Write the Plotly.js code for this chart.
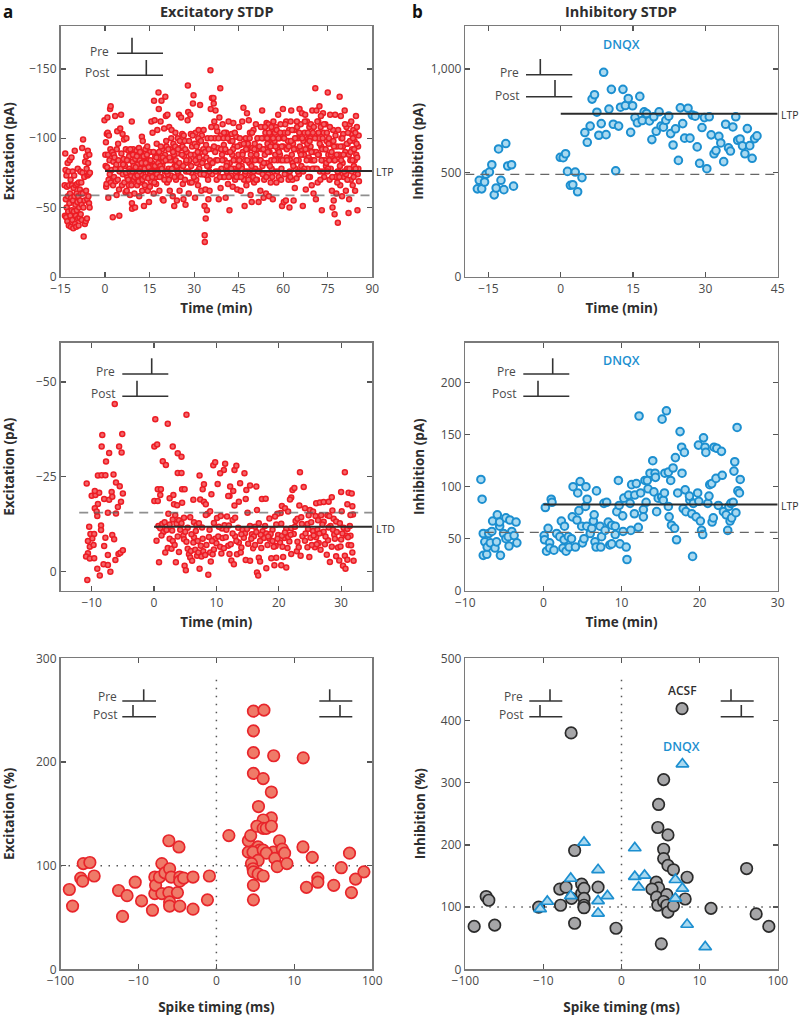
<!DOCTYPE html>
<html><head><meta charset="utf-8">
<script src="https://cdn.plot.ly/plotly-3.0.1.min.js"></script>
<style>html,body{margin:0;padding:0;background:#fff}</style></head>
<body><div id="chart" style="width:800px;height:1016px"></div>
<script>
// ---------- DATA ----------
const excLtpBefore=[[-13.6,66],[-13.5,44],[-13.4,89],[-13.3,77],[-13.2,56],[-13.1,43],[-13,73],[-12.9,50],[-12.8,65],[-12.7,40],[-12.6,82],[-12.5,58],[-12.4,47],[-12.3,76],[-12.2,37],[-12.1,66],[-12,53],[-11.9,84],[-11.8,60],[-11.7,44],[-11.6,70],[-11.5,36],[-11.4,57],[-11.3,86],[-11.2,48],[-11.1,66],[-11,41],[-10.9,76],[-10.8,55],[-10.7,35],[-10.6,64],[-10.5,47],[-10.4,73],[-10.3,58],[-10.2,91],[-10.1,38],[-10,52],[-9.9,66],[-9.8,44],[-9.7,36],[-9.6,60],[-9.5,48],[-9.4,67],[-9.3,54],[-9.2,78],[-9.1,42],[-9,58],[-8.9,37],[-8.8,68],[-8.7,50],[-8.6,43],[-8.5,63],[-8.4,55],[-8.3,76],[-8.2,45],[-8.1,60],[-8,68],[-7.9,52],[-7.8,41],[-7.7,93],[-7.6,75],[-7.5,60],[-7.4,99],[-7.3,50],[-7.2,29],[-7,72],[-6.9,55],[-6.8,38],[-6.7,83],[-6.5,40],[-6.4,62],[-6.3,87],[-6.2,78],[-6.1,42],[-6,56],[-5.9,73],[-5.8,91],[-5.7,82],[-5.6,58],[-5.5,74],[-5.4,53],[-5.3,88],[-5.2,50],[-5.1,75]];
const excLtpAfter=[[-0.2,113],[0.1,88],[0.2,80],[0.3,97],[0.4,65],[0.5,67],[0.6,103],[0.7,79],[0.8,115],[0.9,104],[1,88],[1.1,57],[1.2,70],[1.3,102],[1.5,84],[1.6,74],[1.7,121],[1.8,92],[1.9,123],[1.95,68],[2.2,77],[2.4,90],[2.6,43],[2.7,66],[2.8,83],[2.9,88],[3,72],[3.2,86],[3.4,116],[3.5,78],[3.6,69],[3.8,81],[3.9,59],[3.95,92],[4.1,105],[4.3,70],[4.4,96],[4.5,84],[4.7,63],[4.8,44],[4.9,76],[5.1,107],[5.3,78],[5.4,117],[5.5,89],[5.7,66],[5.9,103],[6,74],[6.2,85],[6.4,99],[6.5,68],[6.7,80],[6.9,61],[7,92],[7.2,100],[7.3,62],[7.5,72],[7.7,84],[7.9,91],[8,66],[8.2,78],[8.4,59],[8.6,88],[8.8,73],[9,112],[9.05,53],[9.1,49],[9.3,83],[9.5,92],[9.7,70],[9.9,60],[10.1,50],[10.2,85],[10.4,76],[10.6,91],[10.8,66],[11,81],[11.2,72],[11.4,93],[11.5,58],[11.7,84],[11.9,68],[12,78],[12.2,90],[12.4,101],[12.5,62],[12.7,98],[12.9,74],[13.1,51],[13.2,86],[13.4,66],[13.6,92],[13.8,80],[14,72],[14.2,94],[14.4,62],[14.6,84],[14.8,54],[15,76],[15.2,90],[15.4,69],[15.6,112],[15.8,82],[16,104],[16.2,73],[16.4,60],[16.5,127],[16.7,113],[16.9,87],[17,79],[17.2,67],[17.4,96],[17.6,106],[17.8,76],[18,133],[18.1,121],[18.3,62],[18.5,86],[18.7,112],[18.9,72],[19,127],[19.2,92],[19.4,56],[19.6,83],[19.7,55],[19.9,107],[20.1,76],[20.3,130],[20.5,116],[20.7,94],[20.9,68],[21,117],[21.2,84],[21.4,78],[21.6,108],[21.8,62],[22,92],[22.2,73],[22.4,106],[22.6,84],[22.8,58],[23,96],[23.3,51],[23.5,80],[23.7,104],[23.9,70],[24.2,55],[24.3,89],[24.5,100],[24.7,74],[24.9,117],[25.1,62],[25.3,93],[25.6,115],[25.8,78],[26,103],[26.2,67],[26.4,56],[26.6,87],[26.8,98],[27.1,52],[27.3,76],[27.5,90],[27.8,113],[27.9,138],[28,119],[28.2,60],[28.4,84],[28.6,68],[28.7,117],[28.9,103],[29.1,75],[29.3,94],[29.6,125],[29.8,131],[30,88],[30.3,57],[30.5,104],[30.7,70],[30.9,82],[31.1,96],[31.3,66],[31.5,106],[31.7,78],[32,124],[32.2,90],[32.4,62],[32.6,102],[32.8,74],[33,84],[33.2,106],[33.5,51],[33.55,30],[33.6,25],[33.8,63],[33.9,42],[34,95],[34.2,73],[34.3,48],[34.5,100],[34.8,56],[35,80],[35.2,62],[35.5,149],[35.6,121],[35.8,108],[36,129],[36.1,74],[36.3,92],[36.5,129],[36.6,125],[36.8,112],[37,100],[37.2,120],[37.4,84],[37.6,70],[37.8,105],[38,93],[38.3,56],[38.5,115],[38.8,136],[38.9,64],[39,102],[39.2,78],[39.4,88],[39.6,110],[39.8,72],[40,95],[40.3,84],[40.6,57],[40.8,104],[41,76],[41.2,90],[41.4,67],[41.6,112],[41.9,48],[42,82],[42.2,98],[42.4,73],[42.6,103],[42.8,88],[43,65],[43.2,111],[43.4,78],[43.6,94],[43.8,70],[44,84],[44.2,101],[44.5,63],[44.7,76],[44.9,88],[45.1,108],[45.3,72],[45.5,95],[45.7,62],[46,80],[46.2,112],[46.4,90],[46.6,122],[46.8,70],[47,51],[47.2,84],[47.4,100],[47.6,66],[47.8,118],[48,92],[48.2,76],[48.4,113],[48.6,82],[48.8,104],[49,59],[49.2,72],[49.4,54],[49.6,93],[49.8,84],[50,106],[50.2,68],[50.4,96],[50.6,78],[50.8,110],[51,88],[51.2,70],[51.5,100],[51.7,54],[51.9,84],[52.1,76],[52.3,62],[52.5,108],[52.7,92],[52.9,120],[53,80],[53.2,100],[53.4,57],[53.6,70],[53.8,88],[54,104],[54.2,60],[54.4,111],[54.5,82],[54.7,96],[54.9,74],[55,110],[55.2,58],[55.4,90],[55.6,102],[55.8,68],[56,84],[56.2,106],[56.4,96],[56.5,56],[56.7,112],[56.9,76],[57.1,98],[57.3,88],[57.5,108],[57.7,68],[57.9,94],[58.1,84],[58.3,117],[58.5,72],[58.7,100],[58.9,88],[59.1,110],[59.4,78],[59.6,51],[59.9,121],[60,94],[60.2,54],[60.4,104],[60.6,84],[60.9,55],[61,112],[61.2,92],[61.4,74],[61.6,98],[61.8,70],[62,106],[62.1,50],[62.3,84],[62.5,112],[62.7,120],[62.9,88],[63.1,70],[63.3,96],[63.5,55],[63.7,106],[63.9,64],[64.1,78],[64.3,92],[64.5,71],[64.7,108],[64.9,84],[65.1,100],[65.3,74],[65.5,121],[65.7,90],[65.9,110],[66.1,80],[66.3,118],[66.6,51],[66.8,98],[67,88],[67.2,104],[67.4,117],[67.6,63],[67.8,92],[68,112],[68.2,78],[68.4,100],[68.6,86],[68.8,108],[69,72],[69.2,94],[69.4,84],[69.6,66],[69.8,120],[70,104],[70.2,60],[70.4,90],[70.6,78],[70.8,136],[71,56],[71.2,120],[71.4,100],[71.6,68],[71.8,112],[72,88],[72.2,123],[72.4,76],[72.6,108],[72.8,94],[73,48],[73.2,84],[73.4,118],[73.6,104],[73.8,72],[74,92],[74.2,110],[74.4,80],[74.6,98],[75,133],[75.2,88],[75.4,100],[75.6,70],[75.8,117],[76,78],[76.2,96],[76.4,62],[76.6,50],[76.8,106],[77,55],[77.2,84],[77.3,45],[77.5,117],[77.7,72],[77.9,60],[78.1,94],[78.4,39],[78.6,76],[78.8,88],[79,130],[79.2,66],[79.4,116],[79.6,100],[79.8,58],[80,82],[80.2,103],[80.4,72],[80.7,120],[80.9,90],[81.1,62],[81.3,108],[81.5,78],[81.7,96],[82,46],[82.2,56],[82.4,110],[82.6,84],[82.8,70],[83,103],[83.2,92],[83.4,66],[83.6,106],[83.8,80],[84,98],[84.2,62],[84.5,116],[84.6,88],[84.8,108],[85,48],[85.1,74],[85.2,94],[85.3,78],[85.4,102],[85.5,69],
[6.1,81],[7.1,75],[8.1,87],[10.5,71],[11.1,88],[12.1,74],[13.3,78],[14.3,82],[15.1,65],[16.1,80],[17.1,72],[18.2,90],[19.3,80],[20.2,88],[21.1,74],[22.1,84],[23.2,88],[24.1,80],[26.1,94],[27.2,82],[29.2,68],[30.2,96],[31.2,90],[33.1,92],[34.1,86],[35.1,76],[37.1,90],[38.1,76],[40.1,104],[41.1,82],[43.1,92],[44.1,76],[45.2,84],[46.1,78],[47.1,74],[48.1,96],[49.1,88],[50.1,76],[51.1,92],[52.2,84],[53.1,74],[54.1,92],[55.1,100],[56.1,78],[57.2,104],[58.2,92],[59.2,84],[60.1,100],[61.1,86],[62.2,76],[63.2,82],[64.2,100],[65.2,84],[66.2,92],[67.1,78],[68.1,96],[69.1,100],[70.1,84],[71.1,90],[72.1,100],[73.1,92],[74.1,84],[75.1,78],[76.1,88],[77.1,94],[78.2,68],[79.1,80],[80.1,94],[81.2,74],[82.1,88],[83.1,76],[84.1,84]];
const excLtpDenseBand=[[7.4,84],[7.8,70],[8.3,76],[8.5,92],[8.9,66],[9.2,76],[9.4,88],[9.6,80],[10,72],[10.3,79],[10.7,87],[10.9,73],[11.3,69],[11.6,76],[11.8,90],[12.3,82],[12.6,70],[13,87],[13.5,72],[13.7,82],[14.1,88],[14.5,71],[14.7,79],[15.3,84],[15.5,76],[15.9,72],[16.3,90],[16.6,68],[16.8,80],[17.3,86],[17.5,74],[17.9,82],[18.4,72],[18.6,80],[18.8,94],[19.1,78],[19.5,86],[20,70],[20.4,84],[20.6,98],[20.8,76],[21.3,92],[21.5,70],[21.7,86],[22.3,100],[22.5,78],[22.9,90],[23.4,72],[23.6,94],[23.8,84],[24.4,76],[24.6,92],[25,82],[25.2,98],[25.5,72],[25.9,88],[26.3,80],[26.5,102],[26.9,70],[27,92],[27.4,84],[28.1,76],[28.3,98],[28.8,88],[29,80],[29.5,102],[29.9,72],[30.4,84],[30.8,94],[31,76],[31.4,100],[31.8,86],[32.1,74],[32.3,98],[32.7,82],[33.3,74],[33.7,90],[34.4,80],[34.7,70],[34.9,92],[35.3,84],[35.7,100],[36.2,82],[36.7,94],[37.3,76],[37.5,108],[37.9,84],[38.2,100],[38.7,72],[39.1,92],[39.5,84],[39.9,100],[40.2,72],[40.5,92],[40.9,80],[41.3,100],[41.7,72],[42.1,90],[42.5,78],[42.9,98],[43.3,84],[43.7,104],[44.3,72],[44.6,94],[45,80],[45.4,100],[45.8,72],[46.3,88],[46.7,96],[47.3,76],[47.5,92],[47.9,84],[48.3,70],[48.7,100],[49.3,80],[49.5,104],[49.9,72],[50.3,92],[50.5,84],[50.9,70],[51.3,100],[51.6,76],[52,94],[52.4,84],[52.8,100],[53.3,92],[53.5,82],[53.9,108],[54.3,72],[54.6,100],[54.8,90],[55.3,104],[55.5,80],[55.7,94],[56,108],[56.3,72],[56.6,100],[57,84],[57.4,94],[57.8,106],[58,76],[58.4,100],[58.6,90],[59,104],[59.3,70],[59.5,94],[59.8,84],[60.3,100],[60.5,74],[60.7,110],[61.3,84],[61.5,104],[61.9,94],[62.4,72],[62.6,98],[63,106],[63.4,80],[63.6,92],[64,100],[64.4,84],[64.6,112],[65,76],[65.4,104],[65.6,94],[66,88],[66.4,100],[66.7,76],[67.3,112],[67.5,92],[67.9,84],[68.3,104],[68.5,72],[68.9,98],[69.3,110],[69.5,90],[69.9,78],[70.3,108],[70.5,84],[70.7,100],[71.3,78],[71.5,112],[71.7,88],[71.9,104],[72.3,96],[72.5,70],[72.7,116],[72.9,84],[73.3,100],[73.5,76],[73.7,110],[74.3,92],[74.5,82],[74.7,104],[74.9,76],[75.3,96],[75.5,84],[75.7,108],[76.3,90],[76.5,72],[76.9,98],[77.4,84],[77.6,102],[78,88],[78.3,76],[78.5,106],[78.9,72],[79.3,94],[79.5,84],[79.9,100],[80.3,88],[80.5,76],[80.8,110],[81.4,96],[81.6,70],[81.8,104],[82.3,78],[82.5,98],[82.7,90],[82.9,112],[83.3,84],[83.5,100],[83.7,72],[83.9,92],[84.3,104],[84.4,78],[84.7,96],[84.9,86]];
const excLtdBefore=[[-10.7,-2.3],[-8.7,-1.1],[-7,-0.1],[-10.8,23.2],[-8.3,36],[-8.4,33],[-7.2,31.3],[-6.3,44.2],[-5.1,36.3],[-5.6,33],[-5.2,31.4],[-7.7,29],[-9,25.3],[-8.4,25.4],[-7.8,25.4],[-6.5,25.6],[-6.1,23.5],[-5.5,22.5],[-5,20.6],[-10,20],[-9.4,20.2],[-8.8,20.8],[-9.5,21.2],[-8,19.1],[-7.2,18.9],[-6.8,21],[-6.7,19.7],[-5.3,18.4],[-5.8,17],[-9,17.8],[-9.5,16.7],[-9.1,14.6],[-9.2,15.8],[-7.4,15.5],[-6.1,15.3],[-10.4,11.8],[-8.5,12.1],[-8.5,10.9],[-10.2,9.9],[-9.6,9.9],[-9.9,8.7],[-10.6,8],[-10.3,6.5],[-9.7,7],[-10.6,4.8],[-10.9,3.9],[-10.3,3.4],[-9.6,3.5],[-7.8,8.9],[-8,6.7],[-6.7,9.6],[-6.4,8.5],[-7.4,4.3],[-6.2,3],[-5.7,4.6],[-5.4,4.9],[-5,5.6],[-8.1,1.9],[-7.4,1.7],[-9.1,0.7]];
const excLtdAfter=[[0.2,40.2],[2.2,39],[5.2,41.4],[0.05,33],[0.5,33.5],[3,33],[1.4,29.1],[1.9,28.1],[3.8,31.2],[4.4,30.3],[3.8,26],[4.4,26],[7.3,25.3],[9.5,28],[9.8,28.8],[11.4,28.4],[11.2,26.8],[10.6,25.9],[12.9,26.8],[13.2,27.9],[14.5,25.9],[23.4,26.2],[30.6,26.2],[24,22.3],[10.2,23.1],[8,23],[7.8,21.7],[4.5,21.7],[4.9,21.7],[0.6,21.7],[1.1,21.7],[1,20.2],[2.5,19.3],[3.1,20.2],[0.05,18.6],[0.6,18.6],[4.5,18.1],[3.2,17.7],[3.7,17.5],[6.3,18.9],[7.4,19],[8,18.4],[8.3,17.7],[9.2,20.4],[12.2,22.4],[12.7,21.2],[12.1,19.9],[11.9,19.9],[13.8,23.3],[13.6,18.4],[12.9,17.4],[14.7,19.1],[14.8,21.5],[15.4,22.7],[16.4,22.4],[17.3,19.1],[17.9,19.2],[16.5,16.2],[15,15.5],[22.2,21.5],[22.5,22],[22,19.5],[21.8,19],[20.5,17.3],[21,16.7],[20.3,15.4],[19.8,15.2],[19.4,14.5],[21.5,15.8],[23.3,17.4],[24.2,16.7],[25,16.2],[25.5,15.8],[26,18],[26.6,18.2],[27.2,18.3],[28,18.4],[28.5,19.6],[28.6,16.1],[30,21],[31.2,20.8],[31.7,20.6],[31,17.7],[31.8,17.2],[30.1,15.9],[31.9,15],[31.5,14.9],[0.7,12],[1,11.4],[1.3,12.5],[1.7,13],[1.5,10.4],[2,11.1],[2.3,15.2],[2.5,12.4],[3,13.7],[3.4,14.8],[3.6,12.6],[4,13.5],[4.4,12.7],[4.8,14.2],[5.4,11.5],[5.8,14.3],[6.4,13],[6.8,12.2],[7.2,12.7],[7.7,11.6],[8.6,15.2],[9,15.9],[8.3,14.9],[9.6,12.8],[10.1,14.1],[10.7,14.6],[10.9,11.3],[11.3,12.2],[11.7,14.5],[12,12.1],[12.6,13.6],[13,14.2],[13.5,11.5],[14.2,11],[14.6,10.1],[15.4,12],[16.2,11.8],[16.8,12.7],[17.4,10.6],[18,10],[18.5,14],[19,11],[19.6,12.4],[20.4,12.6],[21.2,11.2],[22,11.4],[22.7,13.3],[23,13.9],[23.6,14.3],[24.6,12.5],[25.2,13],[25.9,14.6],[26.3,13.5],[26.8,14.8],[27.2,13.1],[27.8,14.8],[28.3,12],[28.8,13.9],[29.2,13.2],[29.8,12.7],[30.4,11.5],[31,11.2],[0.4,8.1],[0.8,2.4],[1.8,5],[2.2,6.2],[2.8,6],[2.5,8.6],[3,8],[3.5,2.4],[4,5.1],[4.7,9.5],[4.8,8.5],[4.9,1.5],[5.1,0.3],[5.4,6],[5.6,4.5],[5.8,3.7],[5.9,5.4],[6.1,2.8],[6.3,7.6],[6.4,9],[6.6,5.7],[6.9,4.1],[7.1,5],[7.3,0.7],[7.6,3.9],[7.9,5.3],[8.2,4.3],[8.7,-0.9],[8.8,9.1],[9,5],[9.1,2.6],[9.4,4.5],[9.8,8.6],[10,7.4],[10.3,9.2],[10.6,6.5],[11,8.8],[10.8,4.7],[11.5,9],[11.9,6.8],[12.1,4.6],[12.4,2.9],[12.8,1.9],[13,9.3],[13.3,4.5],[13.9,5],[14,6.3],[14.4,8.9],[14.7,3],[15.1,7.3],[15.4,2.8],[15.7,9.8],[15.9,6.1],[16.2,7],[16.5,-0.3],[16.7,-1.1],[16.8,3.6],[17,2.6],[17.2,6.2],[17.6,8.8],[18,0.8],[18.2,7],[18.5,8.6],[18.8,3.5],[19,8],[19.3,1.6],[19.6,3.6],[19.9,9.6],[20.2,7.6],[20.4,1.6],[20.7,3.8],[20.9,8.8],[21.2,1],[21.4,6.2],[21.7,7.9],[22,4.6],[22.4,9.9],[22.9,5.3],[23.5,4.1],[23.8,9.3],[24.2,8.1],[24.6,6.4],[24.9,3.8],[25.1,8.9],[25.5,10.7],[25.8,6.4],[26,9],[26.4,7.5],[26.7,5.7],[27,10.2],[27.4,7.2],[27.7,4.4],[27.9,8.2],[28.2,2.5],[28.5,6.5],[28.9,9.7],[29.2,4],[29.5,6.3],[29.7,2.9],[30,8.4],[30.3,1.5],[30.6,4.1],[30.7,0.7],[31,3.1],[31.2,7],[31.5,9.4],[31.8,5],[32,2.8],[2,10.9],[3.8,9.2],[7.8,8.6],[9.3,8],[12.3,7.2],[13.6,7.6],[16,9.3],[17.1,9.7],[18.7,9.9],[19.5,6.7],[20.5,9.4],[21.5,9.1],[23.2,6.4],[24.7,11.2],[25.3,7],[26.2,11],[27.2,10.5],[28,11.6],[29,8.6],[30.8,9.5],[31.1,9]];
const excLtdDenseBand=[[1.2,9.5],[2.9,10.8],[3.3,7],[4.2,11],[5,10.5],[5.2,7.8],[6,9.8],[6.7,10.7],[7,8],[7.5,6.8],[8.4,7],[8.9,11],[9.6,5.8],[10.4,11.8],[11.2,6.1],[11.6,11],[12.6,10],[13.2,8],[14,9.8],[14.9,11.2],[15.6,8.6],[16.4,10.4],[17,8],[17.8,12],[18.3,9.2],[19.2,6.5],[19.8,8.6],[20.6,6.5],[21,10.3],[21.9,9.7],[22.6,11.8],[23,7.8],[23.7,12.5],[24.3,10],[24.8,14.8],[25.6,9.5],[26.1,7.2],[26.5,10],[27,12.4],[27.5,9.2],[28.1,14.6],[28.7,11],[29.3,10.4],[29.9,6.6],[30.2,10],[31.4,12],[31.6,6.9]];
const inhLtpBefore=[[-17.3,423],[-16.9,464],[-16.4,423],[-15.8,456],[-15.5,493],[-14.8,504],[-14.3,539],[-12.9,615],[-11.4,641],[-13.8,394],[-13.4,427],[-12.4,464],[-11.8,419],[-11,533],[-10.2,539],[-9.8,436]];
const inhLtpAfter=[[-0.1,575],[0.5,573],[1,592],[1.4,507],[3,504],[2,440],[2.5,443],[3.5,409],[4.4,477],[5,694],[5.5,647],[6.1,725],[6.5,855],[7,876],[7.5,792],[7.9,681],[8.4,737],[8.9,984],[9.4,684],[10,807],[10.5,902],[10.9,734],[11.4,510],[12,725],[12.4,816],[12.9,902],[13.4,824],[14,858],[14.5,695],[14.9,823],[15.4,766],[15.9,741],[16.4,868],[16.9,752],[17.3,794],[17.8,786],[18.4,750],[18.9,660],[19.3,770],[19.8,700],[20.4,794],[20.8,725],[21.3,720],[21.8,753],[22.4,773],[22.8,689],[23.3,634],[23.8,712],[24.4,560],[24.8,813],[25.3,737],[25.7,667],[26.4,811],[26.8,667],[27.3,778],[27.9,773],[28.3,625],[28.8,546],[29.3,718],[29.8,766],[30.3,520],[30.8,770],[31.2,683],[31.8,592],[32.2,607],[32.8,676],[33.2,644],[33.8,554],[34.2,734],[34.8,620],[35.2,605],[35.7,721],[36.3,770],[36.7,657],[37.2,663],[37.7,630],[38.2,592],[38.7,713],[39.2,631],[39.7,570],[40.2,665],[40.7,678]];
const inhLtdBefore=[[-8,107],[-7.85,88],[-7.7,55],[-7.7,34],[-7.25,35],[-7,55],[-7.5,47],[-7.2,42],[-6.8,46],[-6.6,57],[-6.5,67],[-6.2,41],[-6,47],[-5.9,73],[-5.6,62],[-5.5,34],[-5.6,66],[-5.1,55],[-4.8,70],[-4.8,50],[-4.4,43],[-4.3,68],[-4.05,57],[-4.5,52],[-3.75,53],[-3.5,66],[-3.4,46]];
const inhLtdAfter=[[0.1,53],[0.25,80],[0.15,49],[0.4,38],[0.6,60],[0.8,46],[1,88],[1.1,85],[0.8,41],[1.35,39],[1.7,55],[2.1,52],[2.3,67],[2.5,41],[2.7,62],[2.65,49],[2.9,38],[3.2,52],[3.3,42],[3.6,50],[3.8,100],[3.7,71],[4.1,42],[4.3,68],[4.4,94],[4.55,77],[4.7,105],[5,46],[4.9,62],[5.2,50],[5.45,100],[5.4,81],[5.6,88],[5.55,62],[6,55],[6.2,60],[6.4,67],[6.5,73],[6.6,47],[6.75,42],[6.8,96],[7.25,62],[7.35,42],[7.45,52],[7.75,84],[8.1,85],[7.9,58],[8.3,66],[8.5,44],[8.75,63],[8.75,45],[9.2,62],[9.2,54],[9.4,76],[9.6,106],[9.7,82],[9.8,45],[10.15,72],[10.2,57],[10.6,42],[10.7,30],[10.3,89],[10.9,92],[11.1,84],[11.2,58],[11.3,102],[11.65,74],[11.7,92],[11.9,103],[12.15,61],[12.25,168],[12.45,94],[12.8,78],[12.8,71],[13,106],[13.15,85],[13.4,98],[13.3,106],[13.65,113],[14,125],[14.15,95],[14.3,113],[14.5,76],[14.35,109],[14.7,89],[15.15,90],[15.2,165],[15.35,87],[15.55,113],[15.75,173],[15.5,94],[16,114],[16,81],[16.1,71],[16.3,106],[16.4,63],[16.6,118],[16.8,60],[16.9,128],[17.05,49],[17.2,94],[17.5,153],[17.7,138],[17.75,113],[17.9,79],[18.05,133],[18.15,97],[18.25,76],[18.75,87],[18.7,91],[19,74],[19.1,33],[19.2,84],[19.55,71],[19.75,94],[19.85,140],[19.9,86],[20.1,67],[20.25,58],[20.4,54],[20.5,147],[20.7,138],[20.8,133],[21.05,84],[21.2,91],[21.3,102],[21.55,103],[21.6,66],[21.75,70],[21.85,138],[22.1,108],[22.2,137],[22.4,82],[22.8,134],[22.9,111],[23.05,76],[23.4,73],[23.6,58],[23.75,81],[23.9,67],[24,84],[24.1,70],[24.3,85],[24.4,115],[24.5,124],[24.65,75],[24.8,157],[24.9,96],[25.1,94],[25.2,107]];
const excTiming=[-77,-70,-55,-51,-52,-42,-37,-18,-16,-14,-11,-9.6,-8.2,-7.9,-7.9,-7.8,-7.3,-7,-7,-6.6,-6.1,-6,-6.1,-6,-6,-5.8,-5,-4.8,-4.7,-4.7,-4.7,-4.2,-3,-3,-1.15,-0.9,1.6,4.1,4.1,4.4,4.75,6.1,4.75,4.75,7.35,13,4.75,6,7.05,5.4,7.05,6,5.2,6,6.4,7.05,5.35,5.55,4.7,6,7.3,6.4,5.35,4.5,4.7,4.75,5.35,6,4.75,4.75,7.5,7.8,8.1,8.45,8.75,9.05,12.9,17,14.3,20,20,32,40,51,54,61,78];
const excPercent=[77,61,88,102,85,103,90,76,51,71,84,66,57,89,73,81,89,102,73,93,124,97,74,65,61,89,74,118,89,85,61,88,89,58,67,90,129,113,124,129,249,250,230,209,206,204,189,184,171,157,146,144,138,136,136,138,118,115,113,115,113,112,105,102,97,94,92,90,81,67,107,99,124,116,112,102,118,108,79,88,84,81,98,112,74,87,94];
const acsfTiming=[-77,-54,-50,-42,-11.5,-7.8,-7.9,-7.1,-6.45,-6.4,-6,-6,-5.1,-5.1,-4.8,-4.8,-4.8,-4.8,-3,-0.7,7.75,5.4,4.75,4.65,5.95,5.4,5.4,5.95,6.65,8.4,4.45,4.75,3.9,4.5,4.65,5.8,5.4,5.8,5.95,6.65,8.15,5.1,14,40,53,77];
const acsfPercent=[69,117,111,71,100,103,129,132,380,114,191,74,137,122,130,114,103,99,132,66,419,305,265,228,216,193,178,167,160,148,140,131,129,116,103,120,109,103,92,102,113,41,98,162,89,69];
const dnqxTiming=[-11,-9.5,-6.5,-6.5,-4.8,-3,-3,-3,-1.8,1.7,1.7,2.2,2.95,6.9,6.9,7.8,7.8,8.4,11.8];
const dnqxPercent=[97,109,146,118,204,160,110,90,118,195,149,132,151,144,114,130,330,72,36];
const timingTicks=[-100,-10,0,10,100];
const timingTickText=['\u2212100','\u221210','0','10','100'];
// reference levels: baseline (dashed) and after-pairing mean (solid)
const levels={excLtp:[-58.7,-76.3],excLtd:[-15.5,-11.8],inhLtp:[493,784],inhLtd:[56,83]};

// ---------- helpers ----------
const W=800,H=1016;
const px=x=>x/W, py=y=>1-y/H;
const symlog=ms=>Math.abs(ms)<=10?ms/10:Math.sign(ms)*Math.log10(Math.abs(ms));
const ink='#4a4a4a', dark='#2e2e2e', frame='#7a7a7a';
const FONT='"Open Sans", sans-serif';
const RED={color:'#f2666a',size:5,line:{color:'#ed1c24',width:1.5}};
const BLUE={color:'#a9d9f0',size:7.6,line:{color:'#1c8fd0',width:2}};
const xy=(pts,sign)=>({x:pts.map(p=>p[0]),y:pts.map(p=>sign*p[1])});

function axis(dom,range,vals,text,title,standoff,anchor){
  return {domain:dom,range:range,tickmode:'array',tickvals:vals,ticktext:text,anchor:anchor,
    ticks:'inside',ticklen:5,tickwidth:1.2,tickcolor:'#555',showgrid:false,zeroline:false,
    showline:true,mirror:'ticks',linecolor:frame,linewidth:1.5,
    tickfont:{family:FONT,size:12,color:ink},
    title:{text:title,standoff:standoff,font:{family:FONT,size:13.5,color:dark,weight:700}}};
}
const LX=[px(60.5),px(372.3)], RX=[px(465.3),px(777.7)];
const ROW1=[py(276.7),py(26)], ROW2=[py(590.7),py(342.7)], ROW3=[py(969.3),py(658.3)];

const layout={width:W,height:H,margin:{l:0,r:0,t:0,b:0},paper_bgcolor:'#fff',plot_bgcolor:'#fff',showlegend:false,
 xaxis: axis(LX,[-15,90],[-15,0,15,30,45,60,75,90],['\u221215','0','15','30','45','60','75','90'],'Time (min)',8,'y'),
 yaxis: axis(ROW1,[0,-181],[0,-50,-100,-150],['0','\u221250','\u2212100','\u2212150'],'Excitation (pA)',12,'x'),
 xaxis2:axis(RX,[-19.8,45],[-15,0,15,30,45],['\u221215','0','15','30','45'],'Time (min)',8,'y2'),
 yaxis2:axis(ROW1,[0,1207],[0,500,1000],['0','500','1,000'],'Inhibition (pA)',4,'x2'),
 xaxis3:axis(LX,[-15,35],[-10,0,10,20,30],['\u221210','0','10','20','30'],'Time (min)',8,'y3'),
 yaxis3:axis(ROW2,[5.1,-60.4],[0,-25,-50],['0','\u221225','\u221250'],'Excitation (pA)',19,'x3'),
 xaxis4:axis(RX,[-10,30],[-10,0,10,20,30],['\u221210','0','10','20','30'],'Time (min)',8,'y4'),
 yaxis4:axis(ROW2,[0,238.5],[0,50,100,150,200],['0','50','100','150','200'],'Inhibition (pA)',13,'x4'),
 xaxis5:axis(LX,[-2,2],timingTicks.map(symlog),timingTickText,'Spike timing (ms)',15,'y5'),
 yaxis5:axis(ROW3,[0,300],[0,100,200,300],['0','100','200','300'],'Excitation (%)',18,'x5'),
 xaxis6:axis(RX,[-2,2],timingTicks.map(symlog),timingTickText,'Spike timing (ms)',15,'y6'),
 yaxis6:axis(ROW3,[0,500],[0,100,200,300,400,500],['0','100','200','300','400','500'],'Inhibition (%)',12,'x6'),
 shapes:[],annotations:[]};

// reference lines in data coordinates
function hline(n,y,x0,x1,line,below){layout.shapes.push({type:'line',xref:'x'+n,yref:'y'+n,x0:x0,x1:x1,y0:y,y1:y,line:line,layer:below?'below':'above'});}
const DASHA={color:'rgba(95,95,95,0.7)',width:1.7,dash:'9px,6px'}, DASHB={color:'#666',width:1.2,dash:'9px,6px'}, MEAN={color:'#2b2b2b',width:2};
hline('',levels.excLtp[0],-15,90,DASHA); hline('',levels.excLtp[1],0,90,MEAN);
hline(2,levels.inhLtp[0],-19.8,45,DASHB); hline(2,levels.inhLtp[1],0,45,MEAN);
hline(3,levels.excLtd[0],-12,35,DASHA); hline(3,levels.excLtd[1],0,35,MEAN);
hline(4,levels.inhLtd[0],-7.5,30,DASHB); hline(4,levels.inhLtd[1],0,30,MEAN);
const DOT={color:'#555',width:1.5,dash:'1.5px,6.5px'};
[[5,285],[6,475]].forEach(([n,top])=>{
  hline(n,100,-2,2,DOT,true);
  layout.shapes.push({type:'line',xref:'x'+n,yref:'y'+n,x0:0,x1:0,y0:0,y1:top,line:DOT,layer:'below'});
});

// Pre / Post timing glyphs
function seg(x0,y0,x1,y1,w){layout.shapes.push({type:'line',xref:'paper',yref:'paper',x0:px(x0),x1:px(x1),y0:py(y0),y1:py(y1),line:{color:'#333',width:w||1.6}});}
function glyph(x0,x1,preTick,postTick,preY,postY,preTop,postTop){
  seg(x0,preY,x1,preY); seg(x0,postY,x1,postY);
  seg(preTick,preY,preTick,preTop); seg(postTick,postY,postTick,postTop);
}
function note(text,x,y,o){layout.annotations.push(Object.assign({text:text,xref:'paper',yref:'paper',x:px(x),y:py(y),showarrow:false,borderpad:0,xanchor:'center',yanchor:'middle',font:{family:FONT,size:12,color:ink}},o||{}));}
const RIGHT={xanchor:'right'}, LEFT={xanchor:'left'};
function prePost(xr,y1,y2){note('Pre',xr,y1,RIGHT);note('Post',xr,y2,RIGHT);}
glyph(117,163,132,146.3,53.3,75.3,37.7,60); prePost(110,51,73);
glyph(526,572.3,540.3,555,74.7,96.7,59,80); prePost(520,72.7,95);
glyph(122.3,168.3,151.7,137,374,396.3,358.3,380.7); prePost(115.5,371.3,393.3);
glyph(523.3,569.3,552.7,538,374,396.3,358.3,380.7); prePost(517,371.3,393.3);
glyph(122.3,156,143.7,133,701,716.7,689.3,705); prePost(117.5,696,714.3);
glyph(319.3,352.3,329.7,340,701,716.7,689.3,705);
glyph(529.3,562.3,550,540,701,716.7,689.3,705); prePost(523.5,696,714.3);
glyph(720.7,753.7,731,741.3,701,716.7,689.3,705);

const BLUETXT={font:{family:FONT,size:12.5,color:'#1c8fd0',weight:600}};
note('DNQX',621,44.3,BLUETXT); note('DNQX',621,360.7,BLUETXT); note('DNQX',681.3,746.7,BLUETXT);
note('ACSF',682,690.7,{font:{family:FONT,size:12,color:dark,weight:600}});
const SIDE=Object.assign({font:{family:FONT,size:10.5,color:dark}},LEFT);
note('LTP',375,171.7,SIDE); note('LTP',780,114.7,SIDE); note('LTD',375,529.3,SIDE); note('LTP',780,505.7,SIDE);
const HEAD={font:{family:FONT,size:14.5,color:dark,weight:700}};
note('Excitatory STDP',216.7,11.7,HEAD); note('Inhibitory STDP',621,11.7,HEAD);
const LETTER={font:{family:FONT,size:17,color:'#111',weight:700},xanchor:'left'};
note('a',1.5,12,LETTER); note('b',410.5,12,LETTER);

// ---------- traces ----------
function scatter(n,d,marker){return {type:'scatter',mode:'markers',xaxis:'x'+n,yaxis:'y'+n,x:d.x,y:d.y,marker:marker,cliponaxis:false,hoverinfo:'skip'};}
const traces=[
 scatter('',xy(excLtpBefore,-1),RED),scatter('',xy(excLtpAfter,-1),RED),scatter('',xy(excLtpDenseBand,-1),RED),
 scatter(2,xy(inhLtpBefore,1),BLUE),scatter(2,xy(inhLtpAfter,1),BLUE),
 scatter(3,xy(excLtdBefore,-1),RED),scatter(3,xy(excLtdAfter,-1),RED),scatter(3,xy(excLtdDenseBand,-1),RED),
 scatter(4,xy(inhLtdBefore,1),BLUE),scatter(4,xy(inhLtdAfter,1),BLUE),
 scatter(5,{x:excTiming.map(symlog),y:excPercent},{color:'#ef7a68',size:11.5,line:{color:'#e8252b',width:1.7}}),
 scatter(6,{x:acsfTiming.map(symlog),y:acsfPercent},{color:'#a6a6a8',size:11.5,line:{color:'#2b2b2b',width:1.7}}),
 scatter(6,{x:dnqxTiming.map(symlog),y:dnqxPercent},{symbol:'triangle-up',color:'#a9d9f0',size:11,line:{color:'#1c8fd0',width:1.7}})
];
Plotly.newPlot('chart',traces,layout,{displayModeBar:false,staticPlot:true});
</script></body></html>
